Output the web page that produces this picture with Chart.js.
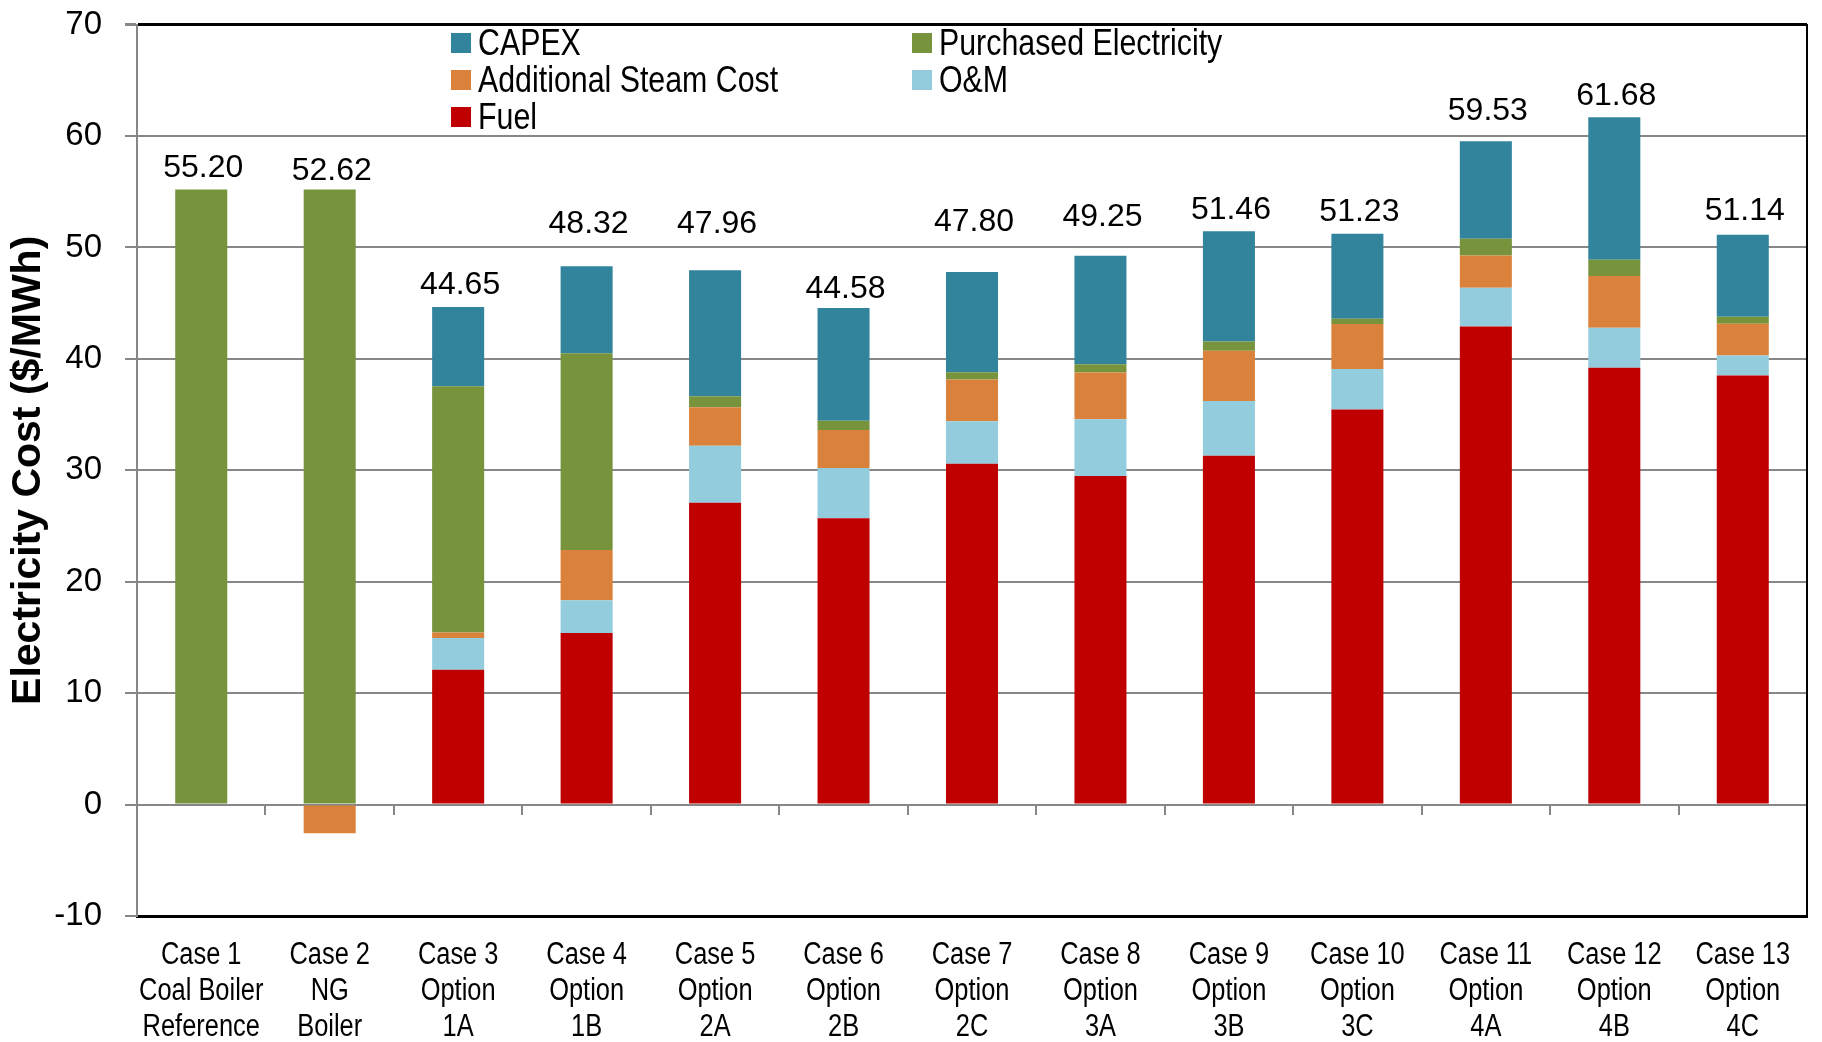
<!DOCTYPE html>
<html>
<head>
<meta charset="utf-8">
<title>Electricity Cost by Case</title>
<script src="https://cdn.jsdelivr.net/npm/chart.js@4.4.1/dist/chart.umd.min.js"></script>
<style>
  html, body { margin: 0; padding: 0; background: #fff; }
  #wrap { position: relative; width: 1822px; height: 1042px; }
  #legend {
    position: absolute; left: 451px; top: 24px;
    display: grid; grid-template-columns: 461px auto;
    font-family: 'Liberation Sans', Arial, sans-serif;
    font-size: 37px; line-height: 37px; color: #000;
  }
  .item { display: flex; align-items: center; white-space: nowrap; }
  .box { width: 20px; height: 20px; margin-right: 7px; flex: none; }
  .txt { display: inline-block; transform: scaleX(0.82); transform-origin: left center; }
</style>
</head>
<body>
<div id="wrap">
  <canvas id="cost-chart"></canvas>
  <div id="legend"></div>
</div>
<script>
// categories (multi-line tick labels)
const categories = [
  ['Case 1', 'Coal Boiler', 'Reference'], ['Case 2', 'NG', 'Boiler'],
  ['Case 3', 'Option', '1A'], ['Case 4', 'Option', '1B'],
  ['Case 5', 'Option', '2A'], ['Case 6', 'Option', '2B'],
  ['Case 7', 'Option', '2C'], ['Case 8', 'Option', '3A'],
  ['Case 9', 'Option', '3B'], ['Case 10', 'Option', '3C'],
  ['Case 11', 'Option', '4A'], ['Case 12', 'Option', '4B'],
  ['Case 13', 'Option', '4C']
];

// $/MWh per cost component
const fuel      = [0, 0, 12.1, 15.4, 27.1, 25.7, 30.6, 29.5, 31.3, 35.45, 42.9, 39.2, 38.5];
const om        = [0, 0, 2.85, 2.95, 5.1, 4.5, 3.8, 5.08, 4.93, 3.65, 3.49, 3.6, 1.8];
const steam     = [0, -2.58, 0.5, 4.5, 3.45, 3.43, 3.75, 4.19, 4.51, 4.03, 2.89, 4.65, 2.85];
const purchased = [55.2, 55.2, 22.1, 17.65, 1.0, 0.83, 0.65, 0.75, 0.83, 0.48, 1.5, 1.45, 0.64];
const capex     = [0, 0, 7.1, 7.82, 11.31, 10.12, 9.0, 9.73, 9.89, 7.62, 8.75, 12.78, 7.35];
const totals    = [55.20, 52.62, 44.65, 48.32, 47.96, 44.58, 47.80, 49.25, 51.46, 51.23, 59.53, 61.68, 51.14];
// level ($/MWh) where each total label sits in the original
const labelLevels = [56.3, 56.1, 45.8, 51.3, 51.3, 45.5, 51.45, 51.9, 52.6, 52.4, 61.4, 62.8, 52.5];

const yMin = -10, yMax = 70, yStep = 10;

const GRID = '#878787';
const SANS = "'Liberation Sans', Arial, sans-serif";

// total above each stack
const totalLabels = {
  id: 'totalLabels',
  afterDatasetsDraw(chart) {
    const {ctx, scales: {x, y}} = chart;
    ctx.save();
    ctx.font = '32px ' + SANS;
    ctx.fillStyle = '#000';
    ctx.textAlign = 'center';
    ctx.textBaseline = 'alphabetic';
    totals.forEach((t, i) => {
      ctx.fillText(t.toFixed(2), x.getPixelForValue(i) + 2, y.getPixelForValue(labelLevels[i]));
    });
    ctx.restore();
  }
};

// condensed three-line category labels under the plot
const caseLabels = {
  id: 'caseLabels',
  afterDraw(chart) {
    const {ctx, chartArea, scales: {x}} = chart;
    ctx.save();
    ctx.font = '31px ' + SANS;
    ctx.fillStyle = '#000';
    ctx.textAlign = 'center';
    ctx.textBaseline = 'middle';
    chart.data.labels.forEach((lines, i) => {
      const cx = x.getPixelForValue(i);
      lines.forEach((txt, j) => {
        ctx.save();
        ctx.translate(cx, chartArea.bottom + 39 + j * 36);
        ctx.scale(0.82, 1);
        ctx.fillText(txt, 0, 0);
        ctx.restore();
      });
    });
    ctx.restore();
  }
};

const chart = new Chart(document.getElementById('cost-chart'), {
  type: 'bar',
  data: {
    labels: categories,
    datasets: [
      {label: 'Fuel', data: fuel, backgroundColor: '#C00000'},
      {label: 'O&M', data: om, backgroundColor: '#93CDDD'},
      {label: 'Additional Steam Cost', data: steam, backgroundColor: '#DA823C'},
      {label: 'Purchased Electricity', data: purchased, backgroundColor: '#77933C'},
      {label: 'CAPEX', data: capex, backgroundColor: '#31849B'}
    ]
  },
  options: {
    responsive: true,
    maintainAspectRatio: false,
    animation: false,
    barPercentage: 0.405,
    categoryPercentage: 1,
    layout: {padding: {top: 21, right: 15, bottom: 0, left: 0}},
    plugins: {legend: {display: false}, tooltip: {enabled: false}},
    scales: {
      x: {
        stacked: true,
        grid: {display: false, drawTicks: false},
        border: {display: true, color: '#000', width: 3},
        ticks: {display: false},
        afterFit(scale) { scale.height = 126; }
      },
      x2: {
        type: 'category',
        position: {y: 0},
        grid: {display: true, drawOnChartArea: false, drawTicks: true, tickLength: 10, offset: true, color: GRID, lineWidth: 2},
        border: {display: false},
        ticks: {display: false}
      },
      y: {
        stacked: true,
        min: yMin, max: yMax,
        ticks: {stepSize: yStep, color: '#000', padding: 23, font: {family: SANS, size: 33, lineHeight: 0.1}},
        grid: {
          color: ctx => ctx.tick && ctx.tick.value === yMax ? '#000' : GRID,
          lineWidth: ctx => ctx.tick && ctx.tick.value === yMax ? 3 : 2,
          tickColor: GRID, tickLength: 12, drawTicks: true
        },
        border: {color: GRID, width: 2},
        title: {
          display: true, text: 'Electricity Cost ($/MWh)', color: '#000',
          font: {family: SANS, size: 41, weight: 'bold'}, padding: {top: 4, bottom: 0}
        },
        afterFit(scale) { scale.width = 137; }
      },
      y2: {
        position: 'right',
        min: yMin, max: yMax,
        grid: {display: false, drawTicks: false},
        ticks: {display: false},
        border: {display: true, color: '#000', width: 2}
      }
    }
  },
  plugins: [totalLabels, caseLabels]
});

// legend, two columns, top series first
const legend = document.getElementById('legend');
chart.data.datasets.slice().reverse().forEach(ds => {
  const item = document.createElement('div');
  item.className = 'item';
  item.innerHTML = `<span class="box" style="background:${ds.backgroundColor}"></span><span class="txt">${ds.label}</span>`;
  legend.appendChild(item);
});
</script>
</body>
</html>
